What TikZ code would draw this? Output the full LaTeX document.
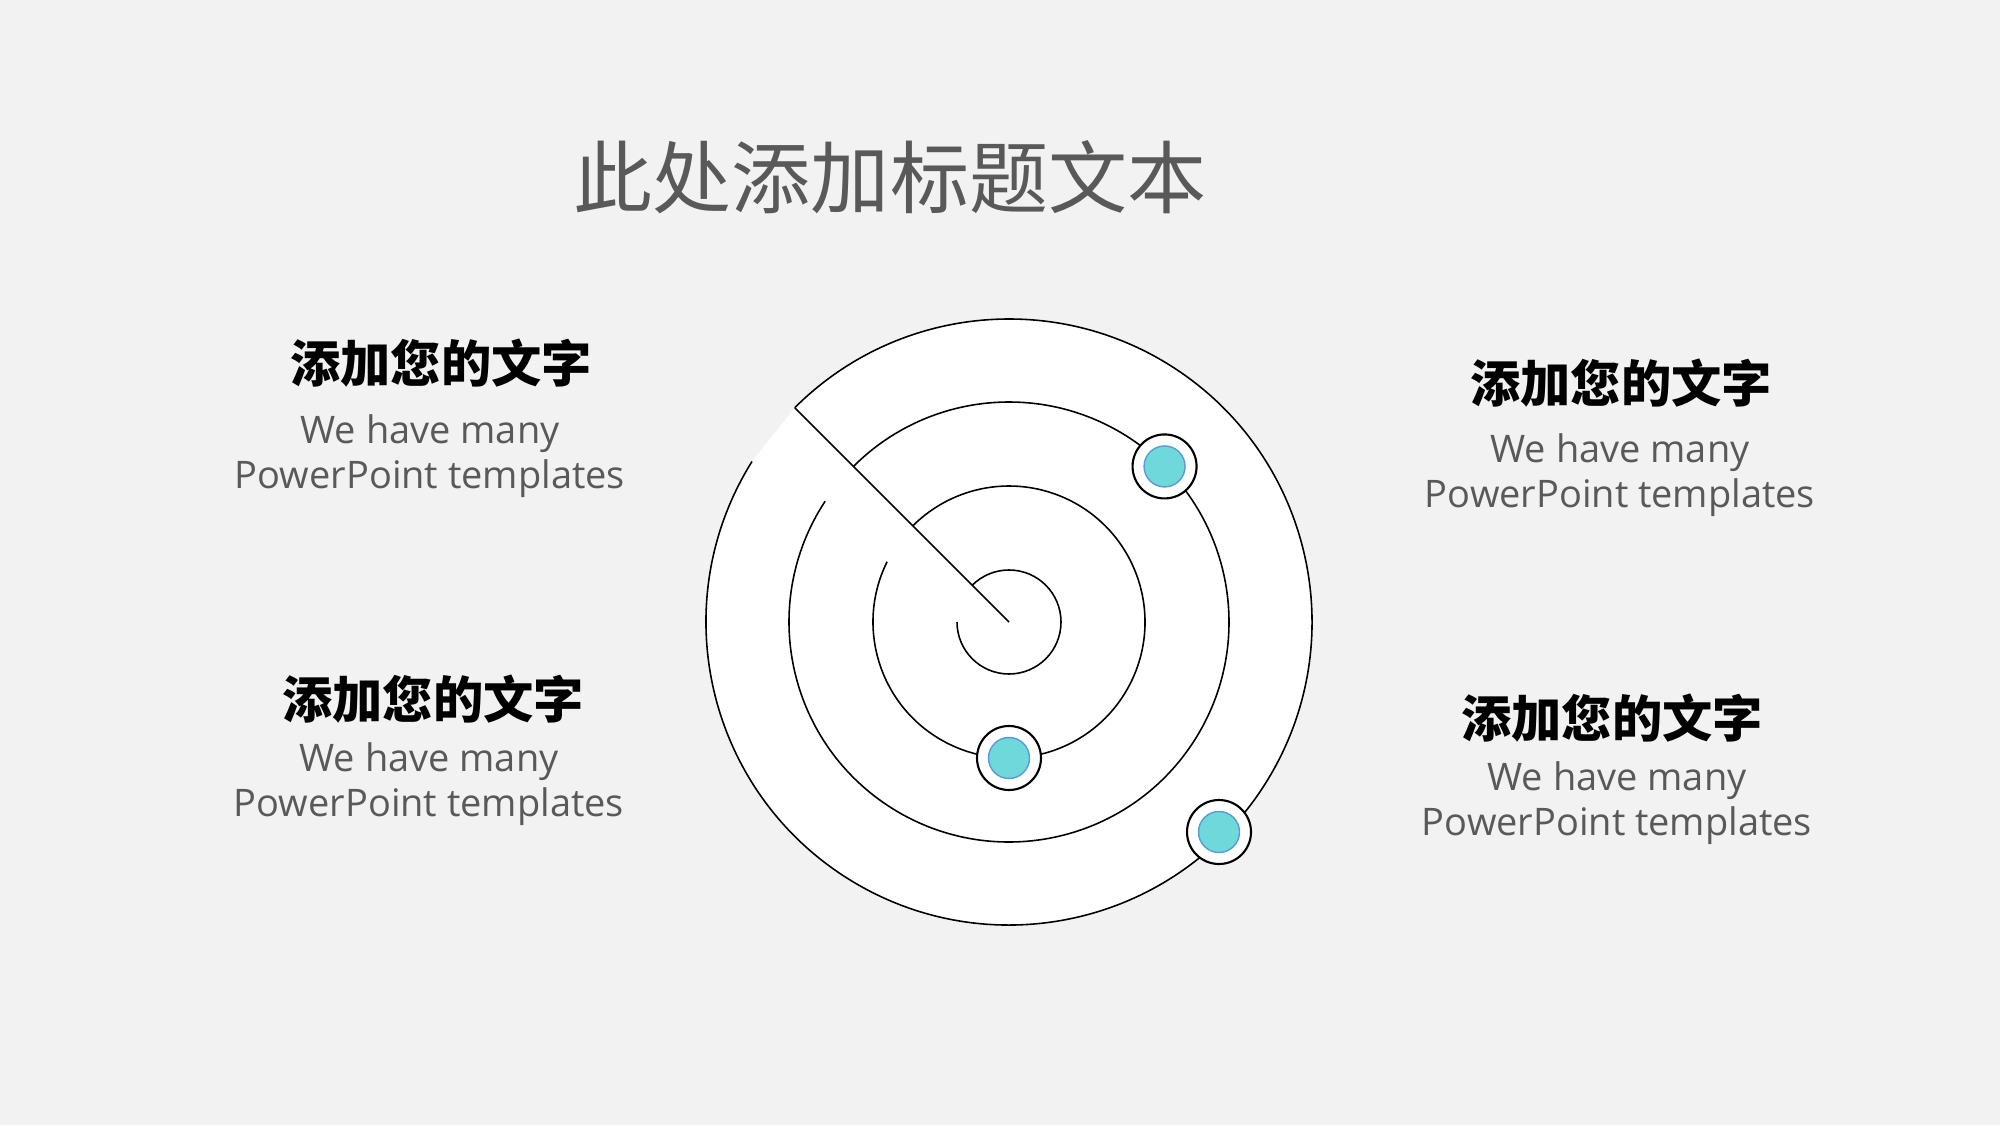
\documentclass[tikz,border=0pt]{standalone}
\usepackage{fontspec}
\setmainfont{Open Sans}
\newfontfamily\cjk{Noto Sans CJK SC}
\usetikzlibrary{positioning, calc}
\definecolor{bggray}{HTML}{F2F2F2}
\definecolor{txtgray}{HTML}{595959}
\definecolor{dotfill}{HTML}{6ED8DB}
\definecolor{dotline}{HTML}{5B9BD5}
\tikzset{
    ttl/.style={font=\cjk\fontsize{22.5}{27}\selectfont, text=txtgray},
    heading/.style={font=\cjk\bfseries\fontsize{14.3}{17}\selectfont, text=black},
    desc/.style={font=\fontsize{10.8}{12.7}\selectfont, text=txtgray, align=center},
    ring/.style={line width=0.45pt},
    blip/.style={circle, draw, fill=white, line width=0.6pt, minimum size=0.64cm, inner sep=0pt},
    core/.style={circle, draw=dotline, fill=dotfill, line width=0.4pt, minimum size=0.41cm, inner sep=0pt},
}

\begin{document}
\begin{tikzpicture}
        % Fonas
        \fill[bggray] (0,0) rectangle (20,11.25);

        \node[ttl] (T) at (8.90,9.48) {此处添加标题文本};

        % Radaras
        \coordinate (O) at (10.09,5.03);
        \fill[white] (O) ++(148:3.03) arc[start angle=148, end angle=495, radius=3.03] -- cycle;
        \draw[ring] (O) ++(148:3.03) arc[start angle=148, end angle=495, radius=3.03];
        \draw[ring] (O) -- ++(135:3.03);
        \foreach \r/\a in {0.52/180, 1.36/153.7, 2.20/146.7} {
            \draw[ring] (O) ++(\a:\r) arc[start angle=\a, end angle=495, radius=\r];
        }

        % Taskai
        \node[blip] (A) at ($(O)+(45:2.20)$) {};
        \node[core] (Ac) at (A) {};
        \node[blip] (B) at ($(O)+(-90:1.36)$) {};
        \node[core] (Bc) at (B) {};
        \node[blip] (C) at ($(O)+(-45:2.97)$) {};
        \node[core] (Cc) at (C) {};

        % Tekstai
        \node[heading] (H1) at (4.41,7.62) {添加您的文字};
        \node[desc] (D1) at (4.30,6.69) {We have many\\PowerPoint templates};
        \node[heading] (H2) at (4.33,4.26) {添加您的文字};
        \node[desc] (D2) at (4.29,3.41) {We have many\\PowerPoint templates};
        \node[heading] (H3) at (16.21,7.42) {添加您的文字};
        \node[desc] (D3) at (16.20,6.50) {We have many\\PowerPoint templates};
        \node[heading] (H4) at (16.12,4.07) {添加您的文字};
        \node[desc] (D4) at (16.17,3.22) {We have many\\PowerPoint templates};
    \end{tikzpicture}
\end{document}
